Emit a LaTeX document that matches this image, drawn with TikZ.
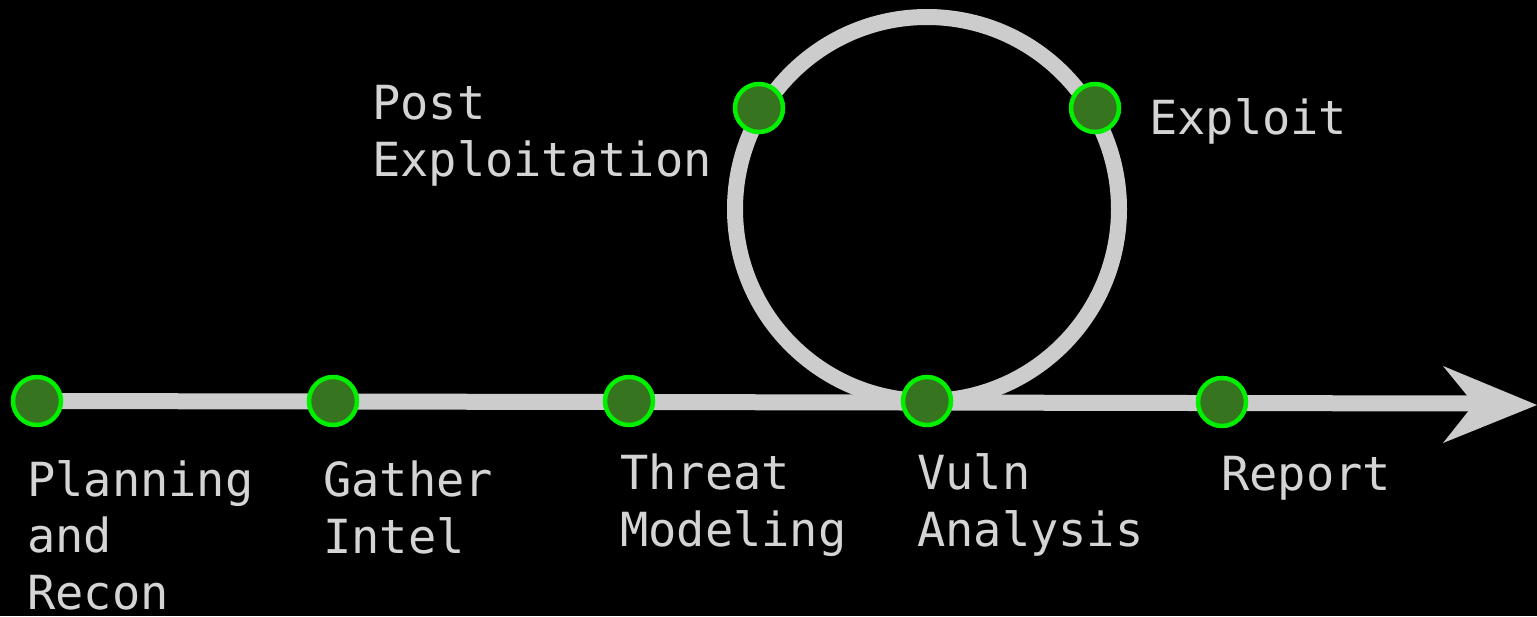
\documentclass[tikz,border=0pt]{standalone}
\usepackage{fontspec}
\setmonofont{DejaVu Sans Mono}
\definecolor{track}{HTML}{CCCCCC}
\definecolor{labeltext}{HTML}{D4D4D4}
\definecolor{dotfill}{HTML}{37741F}
\definecolor{dotring}{HTML}{00F000}
\tikzset{
  stage/.style={circle, draw=dotring, fill=dotfill, line width=4.5pt,
                minimum size=48pt, inner sep=0pt},
  % labels are anchored on the baseline of their last line
  phase/.style={anchor=base west, inner sep=0pt, align=left,
                text=labeltext, font=\ttfamily\fontsize{47}{56.5}\selectfont},
  rail/.style={draw=track, line width=16pt},
}
\begin{document}
\begin{tikzpicture}[x=1pt,y=-1pt]
  % canvas
  \fill[black] (0,0) rectangle (1537,616);
  \useasboundingbox (0,0) rectangle (1537,616);

  % the loop
  \coordinate (loopc) at (927,209);
  \draw[rail] (loopc) circle[radius=192];

  % main timeline with arrow head
  \coordinate (start) at (37,401);
  \coordinate (shaft) at (1480,403.5);
  \draw[rail] (start) -- (shaft);
  \fill[track] (1537,405) -- (1443,366) -- (1474,404) -- (1443,443) -- cycle;

  % stage markers
  \node[stage] (plan)   at (37,401)   {};
  \node[stage] (intel)  at (333,401)  {};
  \node[stage] (threat) at (629,401)  {};
  \node[stage] (vuln)   at (927,401)  {};
  \node[stage] (report) at (1222,402) {};
  \node[stage] (post)   at (759,108)  {};
  \node[stage] (expl)   at (1095,108) {};

  % labels
  \node[phase] (lplan)   at (27,609)   {Planning\\and\\Recon};
  \node[phase] (lintel)  at (323,553)  {Gather\\Intel};
  \node[phase] (lthreat) at (620,546)  {Threat\\Modeling};
  \node[phase] (lvuln)   at (917,546)  {Vuln\\Analysis};
  \node[phase] (lreport) at (1221,490) {Report};
  \node[phase] (lpost)   at (372,176)  {Post\\Exploitation};
  \node[phase] (lexpl)   at (1149,134) {Exploit};
\end{tikzpicture}
\end{document}
